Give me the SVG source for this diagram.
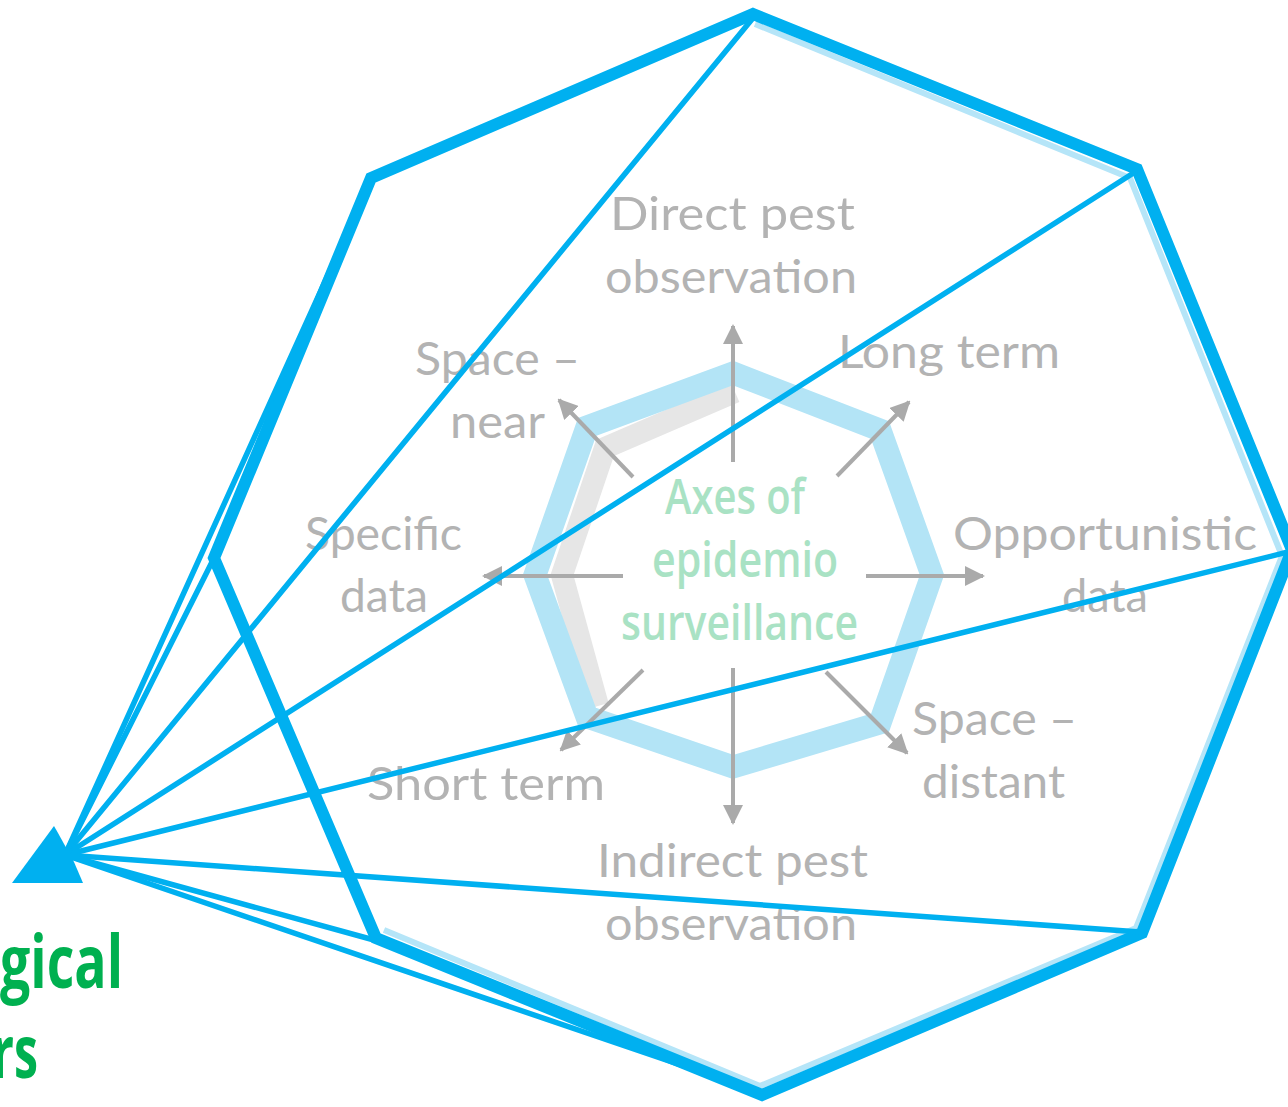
<svg xmlns="http://www.w3.org/2000/svg" width="1288" height="1107" viewBox="0 0 1288 1107">
<style>
.lbl{font-family:Lato,"Open Sans","Liberation Sans",sans-serif;font-size:46px;fill:#b3b3b3;}
.ctr{font-family:"Open Sans","Liberation Sans",sans-serif;font-weight:600;font-size:48px;fill:#a9e2c4;}
.grn{font-family:"Open Sans","Liberation Sans",sans-serif;font-weight:700;font-size:74px;fill:#00b050;}
.axis{stroke:#aaaaaa;stroke-width:4;fill:none;marker-end:url(#ah);}
.ray{stroke:#00b0f0;stroke-width:5.5;fill:none;stroke-linecap:round;}
</style>
<defs>
<marker id="ah" viewBox="0 0 10 10" refX="9" refY="5" markerWidth="5" markerHeight="5" orient="auto" markerUnits="strokeWidth">
<path d="M0,0 L10,5 L0,10 Z" fill="#aaaaaa"/>
</marker>
</defs>
<rect width="1288" height="1107" fill="#ffffff"/>

<g id="radar">
<polyline points="735,392 605,448 562,575 598,706" fill="none" stroke="#e6e6e6" stroke-width="22" stroke-linejoin="miter"/>
<polygon points="733,373 880,430 932,575 880,723 733,767 587,717 535,575 587,427" fill="none" stroke="#b3e4f6" stroke-width="23" stroke-linejoin="miter"/>
</g>

<g id="axes">
<line class="axis" x1="733" y1="462" x2="733" y2="326"/>
<line class="axis" x1="837" y1="476" x2="909" y2="402"/>
<line class="axis" x1="866" y1="576" x2="983" y2="576"/>
<line class="axis" x1="826" y1="672" x2="907" y2="753"/>
<line class="axis" x1="733" y1="668" x2="733" y2="823"/>
<line class="axis" x1="643" y1="670" x2="561" y2="750"/>
<line class="axis" x1="623" y1="576" x2="484" y2="576"/>
<line class="axis" x1="633" y1="477" x2="559" y2="400"/>
</g>

<g id="labels">
<text class="lbl" x="610" y="230" textLength="245" lengthAdjust="spacingAndGlyphs">Direct pest</text>
<text class="lbl" x="605" y="293" textLength="252" lengthAdjust="spacingAndGlyphs">observation</text>
<text class="lbl" x="838" y="368" textLength="222" lengthAdjust="spacingAndGlyphs">Long term</text>
<text class="lbl" x="415" y="375" textLength="165" lengthAdjust="spacingAndGlyphs">Space –</text>
<text class="lbl" x="450" y="438" textLength="95" lengthAdjust="spacingAndGlyphs">near</text>
<text class="lbl" x="305" y="550" textLength="157" lengthAdjust="spacingAndGlyphs">Specific</text>
<text class="lbl" x="340" y="612" textLength="88" lengthAdjust="spacingAndGlyphs">data</text>
<text class="lbl" x="953" y="550" textLength="304" lengthAdjust="spacingAndGlyphs">Opportunistic</text>
<text class="lbl" x="1062" y="612" textLength="86" lengthAdjust="spacingAndGlyphs">data</text>
<text class="lbl" x="912" y="735" textLength="165" lengthAdjust="spacingAndGlyphs">Space –</text>
<text class="lbl" x="922" y="798" textLength="143" lengthAdjust="spacingAndGlyphs">distant</text>
<text class="lbl" x="367" y="800" textLength="238" lengthAdjust="spacingAndGlyphs">Short term</text>
<text class="lbl" x="597" y="877" textLength="271" lengthAdjust="spacingAndGlyphs">Indirect pest</text>
<text class="lbl" x="605" y="940" textLength="252" lengthAdjust="spacingAndGlyphs">observation</text>
</g>

<g id="center">
<text class="ctr" x="665" y="514" textLength="140" lengthAdjust="spacingAndGlyphs">Axes of</text>
<text class="ctr" x="652" y="577" textLength="186" lengthAdjust="spacingAndGlyphs">epidemio</text>
<text class="ctr" x="621" y="640" textLength="237" lengthAdjust="spacingAndGlyphs">surveillance</text>
</g>

<g id="outer">
<polyline points="755,24 1130,178 1282,556 1136,928 760,1086 384,930" fill="none" stroke="#b5e5f8" stroke-width="6" stroke-linejoin="miter"/>
<polygon points="753,14 1137,169 1292,550 1142,933 762,1095 376,938 214,558 371,178" fill="none" stroke="#00b0f0" stroke-width="12" stroke-linejoin="miter"/>
</g>

<g id="connectors">
<line class="ray" x1="65" y1="855" x2="753" y2="18"/>
<line class="ray" x1="65" y1="855" x2="1135" y2="172"/>
<line class="ray" x1="65" y1="855" x2="1288" y2="552"/>
<line class="ray" x1="65" y1="855" x2="1140" y2="932"/>
<line class="ray" x1="65" y1="855" x2="760" y2="1092"/>
<line class="ray" x1="65" y1="855" x2="374" y2="940"/>
<line class="ray" x1="65" y1="855" x2="214" y2="558"/>
<line class="ray" x1="65" y1="855" x2="371" y2="180"/>
</g>

<g id="apex">
<polygon points="12,883 83,883 74,862 58,833 54,826" fill="#00b0f0"/>
</g>

<g id="title">
<text class="grn" x="0" y="988" textLength="123" lengthAdjust="spacingAndGlyphs">gical</text>
<text class="grn" x="-8" y="1078" textLength="46" lengthAdjust="spacingAndGlyphs">rs</text>
</g>
</svg>
